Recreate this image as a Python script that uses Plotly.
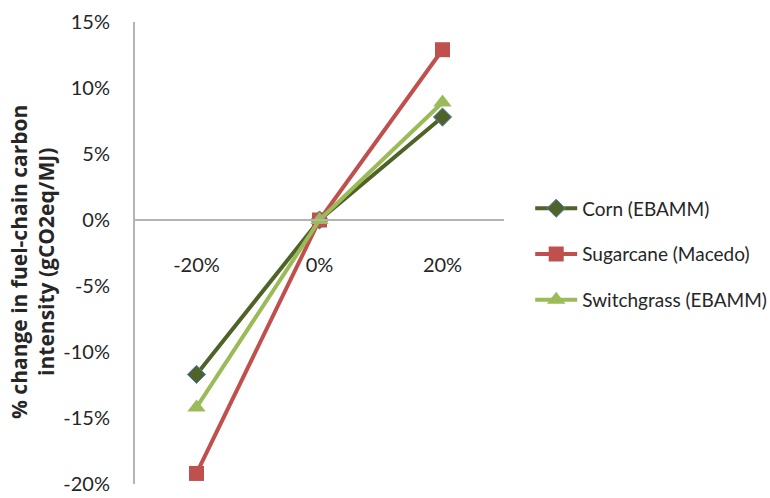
import plotly.graph_objects as go

# Sensitivity of fuel-chain carbon intensity to a +/-20% parameter change
categories = ["-20%", "0%", "20%"]
corn = [-0.117, 0.0, 0.078]
sugarcane = [-0.192, 0.0, 0.129]
switchgrass = [-0.142, 0.0, 0.089]

y_min, y_max = -0.20, 0.15
y_ticks = [-0.20, -0.15, -0.10, -0.05, 0.0, 0.05, 0.10, 0.15]
y_ticktext = [f"{round(v * 100)}%" for v in y_ticks]  # plain hyphen for negatives

FONT = "Lato"
AXIS_GREY = "#b4b4b4"
TEXT = "#262626"

series = [
    ("Corn (EBAMM)", corn, "#4f6228", "diamond", 14, dict(color="#4f81bd", width=1)),
    ("Sugarcane (Macedo)", sugarcane, "#c0504d", "square", 15, dict(color="#c0504d", width=0)),
    ("Switchgrass (EBAMM)", switchgrass, "#9bbb59", "triangle-up", 16, dict(color="#9bbb59", width=0)),
]

fig = go.Figure()
for i, (name, vals, color, symbol, size, mline) in enumerate(series):
    fig.add_trace(go.Scatter(
        x=categories, y=vals, name=name, mode="lines+markers",
        line=dict(color=color, width=4),
        marker=dict(symbol=symbol, size=size, color=color, line=mline),
        legendgroup=f"g{i}", cliponaxis=False,
    ))

# horizontal category axis sits where y = 0
x_axis_pos = (0 - y_min) / (y_max - y_min)

fig.update_layout(
    width=770, height=498,
    margin=dict(l=135, r=266, t=22, b=14, autoexpand=False),
    paper_bgcolor="white", plot_bgcolor="white",
    font=dict(family=FONT, size=19, color=TEXT),
    showlegend=True,
    legend=dict(
        x=1.071, y=0.497, xanchor="left", yanchor="middle",
        font=dict(family=FONT, size=19, color=TEXT),
        tracegroupgap=18, itemwidth=42, bgcolor="rgba(0,0,0,0)",
    ),
    xaxis=dict(
        type="category", range=[-0.5, 2.5],
        anchor="free", position=x_axis_pos,
        showline=True, linecolor=AXIS_GREY, linewidth=2,
        showgrid=False, zeroline=False, ticks="",
        ticklabelstandoff=27,
        tickfont=dict(family=FONT, size=20, color=TEXT),
    ),
    yaxis=dict(
        range=[y_min, y_max], tickvals=y_ticks, ticktext=y_ticktext,
        showline=True, linecolor=AXIS_GREY, linewidth=2,
        showgrid=False, zeroline=False, ticks="",
        ticklabelstandoff=19,
        tickfont=dict(family=FONT, size=20, color=TEXT),
    ),
    annotations=[dict(
        text="<b>% change in fuel-chain carbon<br>intensity (gCO2eq/MJ)</b>",
        xref="paper", yref="paper", x=(32 - 135) / 369, y=(484 - 262) / 462,
        xanchor="center", yanchor="middle", textangle=-90, showarrow=False,
        font=dict(family="Open Sans", size=21, color=TEXT),
    )],
)

fig.write_html("out.html")
